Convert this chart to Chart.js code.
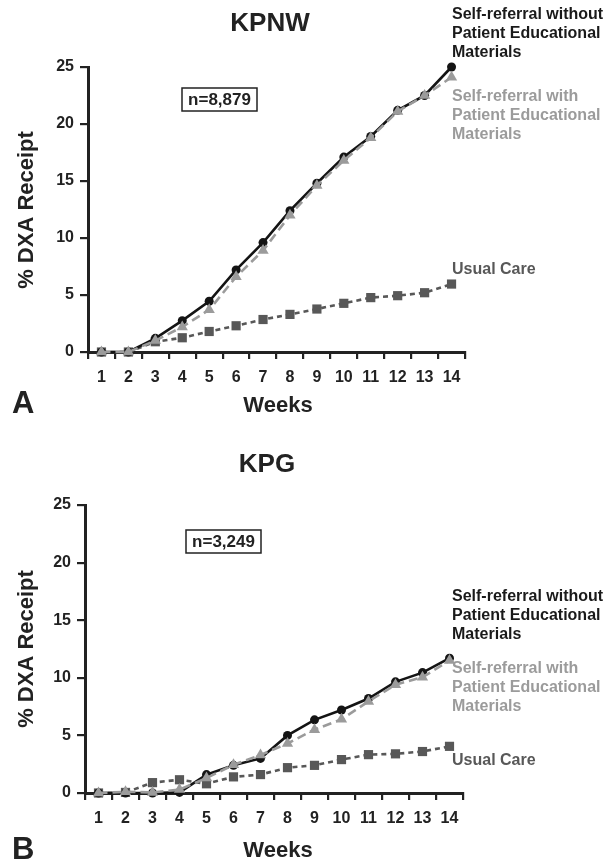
<!DOCTYPE html>
<html>
<head>
<meta charset="utf-8">
<script src="https://cdn.jsdelivr.net/npm/chart.js@4.4.1/dist/chart.umd.min.js"></script>
<style>
  html, body { margin: 0; padding: 0; background: #fff; }
  #wrap { position: relative; width: 606px; height: 861px; }
  .panel { position: absolute; left: 0; width: 606px; }
  #panelA { top: 0; height: 430px; }
  #panelB { top: 430px; height: 431px; }
</style>
</head>
<body>
<div id="wrap">
  <div class="panel" id="panelA"><canvas id="chartA"></canvas></div>
  <div class="panel" id="panelB"><canvas id="chartB"></canvas></div>
</div>
<script>
// weeks on the x axis
const weeks = ["1", "2", "3", "4", "5", "6", "7", "8", "9", "10", "11", "12", "13", "14"];

// panel A - KPNW (n=8,879)
const kpnwNoMaterials = [0, 0, 1.2, 2.75, 4.45, 7.2, 9.6, 12.4, 14.8, 17.1, 18.9, 21.2, 22.5, 25.0];
const kpnwMaterials   = [0, 0, 1.0, 2.2, 3.7, 6.6, 8.9, 12.0, 14.6, 16.8, 18.8, 21.1, 22.5, 24.1];
const kpnwUsualCare   = [0, 0, 0.9, 1.25, 1.8, 2.3, 2.85, 3.3, 3.77, 4.27, 4.77, 4.94, 5.2, 5.96];

// panel B - KPG (n=3,249)
const kpgNoMaterials = [0, 0, 0, 0.05, 1.6, 2.4, 3.0, 5.0, 6.35, 7.2, 8.2, 9.65, 10.45, 11.7];
const kpgMaterials   = [0, 0.1, 0.05, 0.3, 1.3, 2.45, 3.3, 4.3, 5.5, 6.4, 7.95, 9.4, 10.05, 11.5];
const kpgUsualCare   = [0, 0.05, 0.9, 1.15, 0.8, 1.4, 1.6, 2.2, 2.4, 2.9, 3.33, 3.4, 3.6, 4.05];

const yTicks = [0, 5, 10, 15, 20, 25];

const FONT = "'Liberation Sans', Arial, Helvetica, sans-serif";
Chart.defaults.font.family = FONT;
Chart.defaults.font.weight = "bold";
Chart.defaults.font.size = 16;
Chart.defaults.color = "#222";

const BLACK = "#141414";
const LIGHT = "#9b9b9b";
const DARK = "#585858";

function makeDatasets(noMat, withMat, usual) {
  return [
    {
      label: "Self-referral with Patient Educational Materials",
      data: withMat,
      borderColor: LIGHT,
      backgroundColor: LIGHT,
      borderWidth: 2.6,
      borderDash: [9, 5],
      pointStyle: "triangle",
      pointRadius: 6.5,
      pointBorderWidth: 0,
      order: 0
    },
    {
      label: "Self-referral without Patient Educational Materials",
      data: noMat,
      borderColor: BLACK,
      backgroundColor: BLACK,
      borderWidth: 2.6,
      pointStyle: "circle",
      pointRadius: 4.5,
      pointBorderWidth: 0,
      order: 1
    },
    {
      label: "Usual Care",
      data: usual,
      borderColor: DARK,
      backgroundColor: DARK,
      borderWidth: 2.6,
      borderDash: [5, 4],
      pointStyle: "rect",
      pointRadius: 6.5,
      pointBorderWidth: 0,
      order: 2
    }
  ];
}

// draws the titles, panel letter, n box and the series labels
const annotate = {
  id: "annotate",
  afterDraw(chart, args, o) {
    const ctx = chart.ctx;
    ctx.save();
    ctx.textBaseline = "middle";

    ctx.fillStyle = "#222";
    ctx.textAlign = "center";
    ctx.font = "bold 26px " + FONT;
    ctx.fillText(o.title, o.titleX, o.titleY);

    ctx.font = "bold 22px " + FONT;
    ctx.fillText("Weeks", 278, o.weeksY);

    ctx.save();
    ctx.translate(27, o.yTitleY);
    ctx.rotate(-Math.PI / 2);
    ctx.fillText("% DXA Receipt", 0, 0);
    ctx.restore();

    ctx.textAlign = "left";
    ctx.font = "bold 31px " + FONT;
    ctx.fillText(o.letter, 12, o.letterY);

    // sample size box
    ctx.strokeStyle = "#222";
    ctx.lineWidth = 1.5;
    ctx.strokeRect(o.box[0], o.box[1], o.box[2], o.box[3]);
    ctx.textAlign = "center";
    ctx.font = "bold 17px " + FONT;
    ctx.fillText(o.n, o.box[0] + o.box[2] / 2, o.box[1] + o.box[3] / 2 + 1);

    // series labels
    ctx.textAlign = "left";
    ctx.font = "bold 16px " + FONT;
    o.labels.forEach(l => {
      ctx.fillStyle = l.color;
      l.lines.forEach((t, i) => ctx.fillText(t, 452, l.y + i * 19));
    });
    ctx.restore();
  }
};

function makeChart(id, datasets, area, height, extra) {
  return new Chart(document.getElementById(id), {
    type: "line",
    data: { labels: weeks, datasets: datasets },
    plugins: [annotate],
    options: {
      responsive: true,
      maintainAspectRatio: false,
      animation: false,
      clip: false,
      layout: {
        padding: { left: 0, top: area.top, right: 606 - area.right, bottom: height - area.bottom - 40 }
      },
      plugins: {
        legend: { display: false },
        tooltip: { enabled: false },
        annotate: extra
      },
      elements: { line: { tension: 0 } },
      scales: {
        x: {
          offset: true,
          afterFit: s => { s.height = 40; },
          grid: { offset: true, drawOnChartArea: false, tickLength: 7, color: "#222", lineWidth: 2.2 },
          border: { display: true, color: "#222", width: 3 },
          ticks: { padding: 9, color: "#222", maxRotation: 0, autoSkip: false }
        },
        y: {
          min: 0,
          max: 25,
          afterFit: s => { s.width = area.left; },
          afterBuildTicks: s => { s.ticks = yTicks.map(v => ({ value: v })); },
          grid: { drawOnChartArea: false, tickLength: 8, color: "#222", lineWidth: 2.2 },
          border: { display: true, color: "#222", width: 3 },
          ticks: { padding: 6, color: "#222" }
        }
      }
    }
  });
}

makeChart("chartA", makeDatasets(kpnwNoMaterials, kpnwMaterials, kpnwUsualCare),
  { left: 88, right: 465, top: 67, bottom: 352 }, 430,
  {
    title: "KPNW", titleX: 270, titleY: 24,
    weeksY: 406, yTitleY: 210, letter: "A", letterY: 404,
    box: [182, 88, 75, 23], n: "n=8,879",
    labels: [
      { color: "#1a1a1a", y: 15, lines: ["Self-referral without", "Patient Educational", "Materials"] },
      { color: LIGHT, y: 97, lines: ["Self-referral with", "Patient Educational", "Materials"] },
      { color: DARK, y: 270, lines: ["Usual Care"] }
    ]
  });

makeChart("chartB", makeDatasets(kpgNoMaterials, kpgMaterials, kpgUsualCare),
  { left: 85, right: 463, top: 75, bottom: 363 }, 431,
  {
    title: "KPG", titleX: 267, titleY: 35,
    weeksY: 421, yTitleY: 219, letter: "B", letterY: 420,
    box: [186, 100, 75, 23], n: "n=3,249",
    labels: [
      { color: "#1a1a1a", y: 167, lines: ["Self-referral without", "Patient Educational", "Materials"] },
      { color: LIGHT, y: 239, lines: ["Self-referral with", "Patient Educational", "Materials"] },
      { color: DARK, y: 331, lines: ["Usual Care"] }
    ]
  });
</script>
</body>
</html>
